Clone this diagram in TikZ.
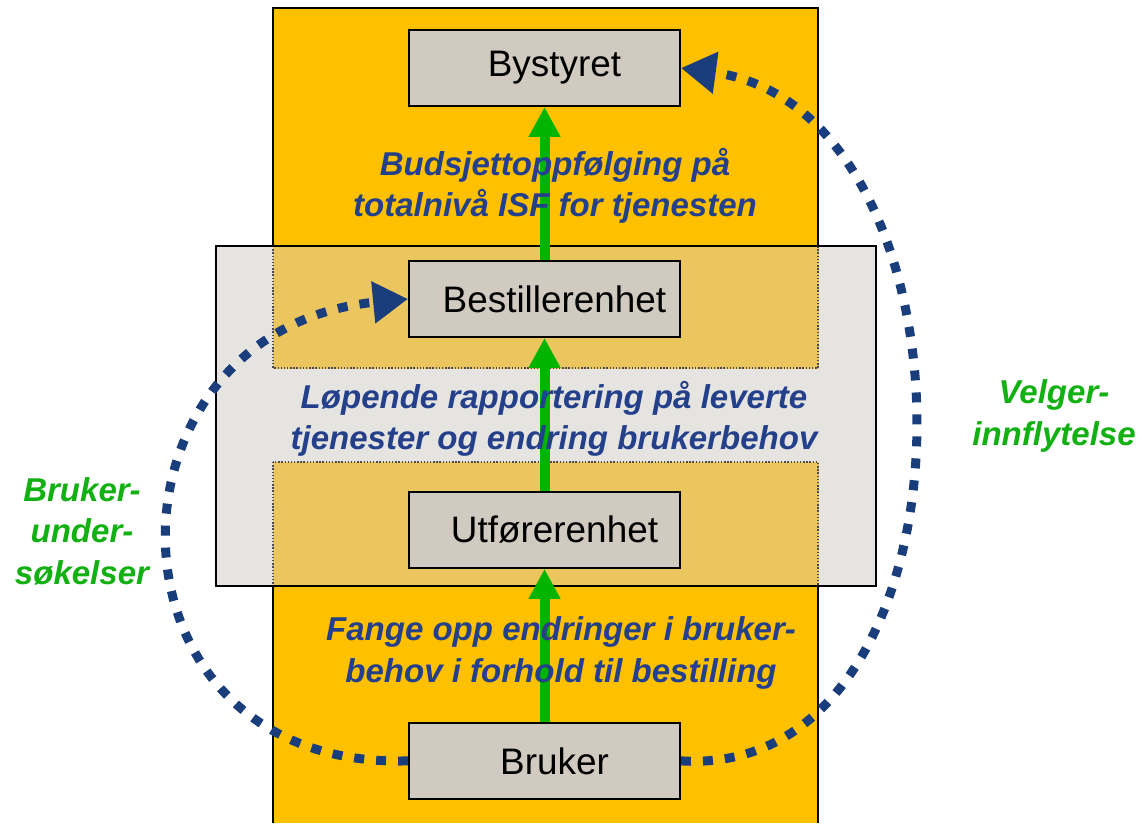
\documentclass[tikz,border=0pt]{standalone}
\usepackage{fontspec}
\setmainfont{Liberation Sans}
\usetikzlibrary{arrows.meta}
\definecolor{colyellow}{HTML}{FFC000}
\definecolor{bandgray}{HTML}{E6E4E1}
\definecolor{bandyellow}{HTML}{EBC55E}
\definecolor{boxgray}{HTML}{D0CAC0}
\definecolor{arrowgreen}{HTML}{00B400}
\definecolor{textgreen}{HTML}{12B012}
\definecolor{textblue}{HTML}{24408A}
\definecolor{dotblue}{HTML}{1A3D7C}
\tikzset{
  unit/.style={draw, line width=1.1pt, fill=boxgray, minimum width=5.42cm, minimum height=1.52cm,
    font=\fontsize{21}{25}\selectfont, execute at begin node=\hspace*{0.4cm}},
  flow/.style={align=center, text=textblue, font=\bfseries\itshape\fontsize{18.8}{23.6}\selectfont},
  sidenote/.style={align=center, text=textgreen, font=\bfseries\itshape\fontsize{18.8}{23.6}\selectfont},
  upflow/.style={-{Triangle[length=0.6cm,width=0.6cm]}, line width=0.2cm, arrowgreen},
  feedback/.style={-{Triangle[length=0.7cm,width=0.8cm]}, line width=0.18cm, dotblue, dash pattern=on 0.2cm off 0.24cm}
}
\begin{document}
\begin{tikzpicture}[x=0.02cm, y=-0.02cm, node distance=4.62cm]
\useasboundingbox (0,0) rectangle (1145,823);
% background column and band
\fill[colyellow] (273,8) rectangle (818,823);
\draw[line width=0.8pt] (273,823) -- (273,8) -- (818,8) -- (818,823);
\fill[bandgray] (216,246) rectangle (876,586);
\draw[bandyellow, fill=bandyellow] (273,246) rectangle (818,368);
\draw[bandyellow, fill=bandyellow] (273,462) rectangle (818,586);
\draw[densely dotted, line width=0.8pt, black!70] (273,246) rectangle (818,368);
\draw[densely dotted, line width=0.8pt, black!70] (273,462) rectangle (818,586);
\draw[line width=0.8pt] (216,246) rectangle (876,586);
% units
\node[unit] (bystyret) at (544.5,68) {Bystyret};
\node[unit, below of=bystyret] (bestiller) {Bestillerenhet};
\node[unit, below of=bestiller] (utforer) {Utførerenhet};
\node[unit, below of=utforer] (bruker) {Bruker};
\draw[upflow] (bruker) -- (utforer);
\draw[upflow] (utforer) -- (bestiller);
\draw[upflow] (bestiller) -- (bystyret);
% flow texts
\node[flow] (budsjett) at (555,186) {Budsjettoppfølging på\\totalnivå ISF for tjenesten};
\node[flow] (rapport) at (554,419) {Løpende rapportering på leverte\\tjenester og endring brukerbehov};
\node[flow] (endring) at (561,653) {Fange opp endringer i bruker-\\behov i forhold til bestilling};
\node[sidenote] (velger) at (1054,416) {Velger-\\innflytelse};
\node[sidenote] (undersok) at (82,531) {Bruker-\\under-\\søkelser};
% feedback loops
\draw[feedback] (bruker.east) .. controls (990,780) and (990,110) .. (bystyret.east);
\draw[feedback] (bruker.west) .. controls (90,770) and (90,330) .. (bestiller.west);
\end{tikzpicture}
\end{document}
